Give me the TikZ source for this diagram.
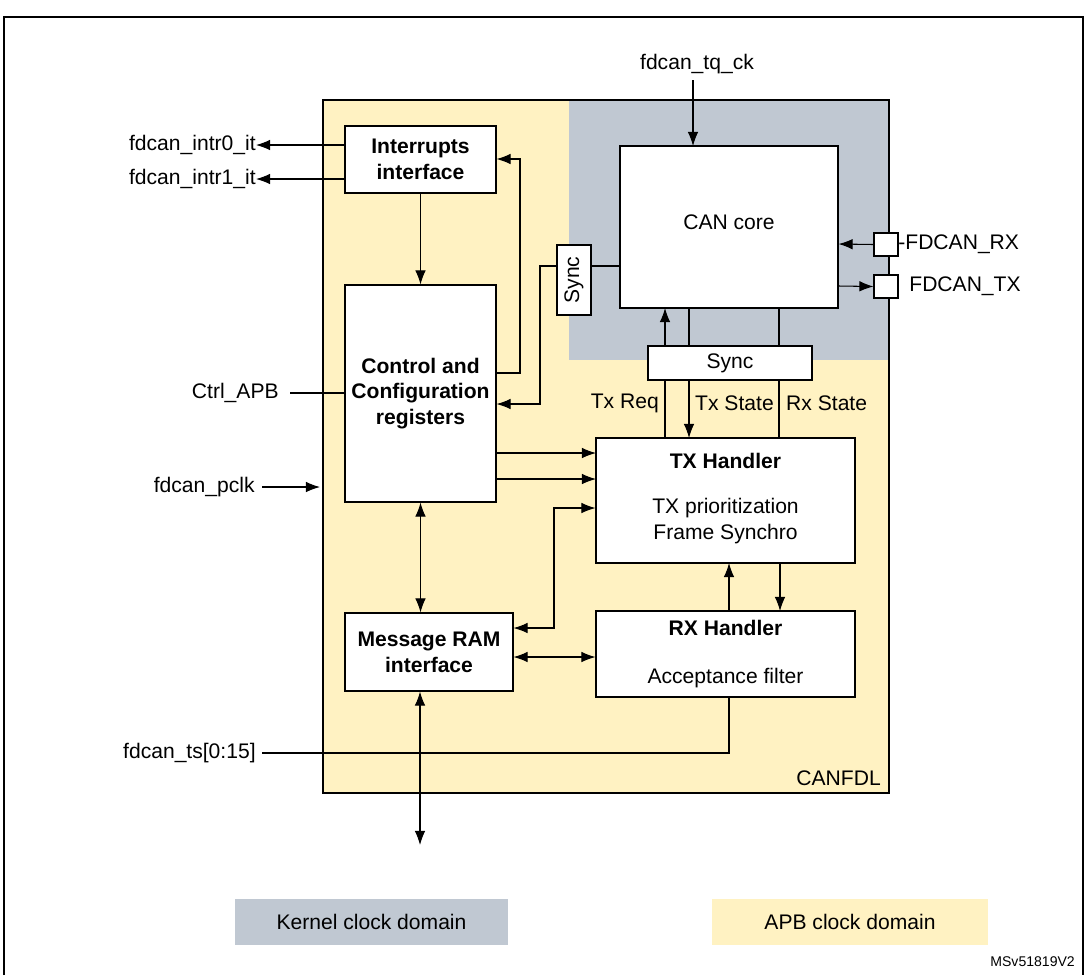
\documentclass[tikz,border=0pt]{standalone}
\usepackage{fontspec}
\setmainfont{Liberation Sans}
\usetikzlibrary{arrows.meta}
\definecolor{apb}{HTML}{FFF2C2}
\definecolor{ker}{HTML}{C0C8D2}
\begin{document}
\begin{tikzpicture}[x=0.2mm,y=-0.2mm,font=\fontsize{12}{14.7}\selectfont,
  blk/.style={draw,fill=white,line width=0.6pt,inner sep=0pt},
  bf/.style={font=\fontsize{12}{14.7}\selectfont\bfseries,align=center},
  ln/.style={line width=0.6pt},
  ar/.style={ln,-{Latex[length=8pt,width=6pt]}},
  dar/.style={ln,{Latex[length=8pt,width=6pt]}-{Latex[length=8pt,width=6pt]}}]
\useasboundingbox (0,0) rectangle (1087,975);
\draw[line width=0.6pt] (4,975) -- (4,17) -- (1083,17) -- (1083,975);
\draw[line width=1.5pt] (4,17) -- (1083,17);
% domains
\fill[apb] (323,100) rectangle (889,793);
\fill[ker] (569,100) rectangle (889,360);
\draw[ln] (323,100) rectangle (889,793);
\node[anchor=east] (canfdl) at (887,778) {CANFDL};
% blocks
\node[blk,bf,minimum width=151*0.2mm,minimum height=67*0.2mm] (ii) at (420.5,159.5) {Interrupts\\interface};
\node[blk,bf,minimum width=151*0.2mm,minimum height=217*0.2mm] (cc) at (420.5,393.5) {Control and\\Configuration\\registers};
\node[blk,bf,minimum width=168*0.2mm,minimum height=78*0.2mm] (mr) at (429,652) {Message RAM\\interface};
\node[blk,minimum width=218*0.2mm,minimum height=162*0.2mm] (core) at (729,227) {};
\node at (729,222) {CAN core};
\node[blk,minimum width=34*0.2mm,minimum height=70*0.2mm] (sv) at (574,280) {};
\node[rotate=90] at (574,280) {Sync};
\node[blk,minimum width=164*0.2mm,minimum height=34*0.2mm] (sh) at (730,363) {Sync};
\node[blk,minimum width=259*0.2mm,minimum height=125*0.2mm] (tx) at (725.5,500.5) {};
\node[bf] at (725.5,461) {TX Handler};
\node[align=center] at (725.5,521) {TX prioritization\\Frame Synchro};
\node[blk,minimum width=259*0.2mm,minimum height=86*0.2mm] (rx) at (725.5,654) {};
\node[bf] at (725.5,628) {RX Handler};
\node at (725.5,678) {Acceptance filter};
\node[blk,minimum width=24*0.2mm,minimum height=23*0.2mm] (prx) at (886,244.5) {};
\node[blk,minimum width=24*0.2mm,minimum height=23*0.2mm] (ptx) at (886,286.5) {};
\node[anchor=west,inner sep=0pt] (lrx) at (898,244) {-FDCAN\_RX};
\node[anchor=west,inner sep=0pt] (ltx) at (909,286) {FDCAN\_TX};
% external labels
\node[anchor=east,inner sep=0pt] (i0) at (256,145) {fdcan\_intr0\_it};
\node[anchor=east,inner sep=0pt] (i1) at (256,179) {fdcan\_intr1\_it};
\node (tq) at (697,64) {fdcan\_tq\_ck};
\node[anchor=east,inner sep=0pt] (apbl) at (279,393) {Ctrl\_APB};
\node[anchor=east,inner sep=0pt] (pclk) at (255,487) {fdcan\_pclk};
\node[anchor=east,inner sep=0pt] (ts) at (256,753) {fdcan\_ts[0:15]};
\coordinate (bot) at (420,845);
% connectors
\draw[ar] (ii.west |- 0,145) -- (i0.east);
\draw[ar] (ii.west |- 0,179) -- (i1.east);
\draw[ar] (693,80) -- (693,146);
\draw[ar] (ii.south) -- (cc.north);
\draw[ar] (496,373) -- (520,373) -- (520,159) -- (ii.east |- 0,159);
\draw[ln] (sv.east |- 0,266) -- (core.west |- 0,266);
\draw[ar] (sv.west |- 0,266) -- (540,266) -- (540,404) -- (cc.east |- 0,404);
\draw[ar] (prx.west) -- (core.east |- 0,244);
\draw[ar] (core.east |- 0,286) -- (ptx.west);
\draw[ar] (665,346) -- (665,308);
\draw[ln] (689,346) -- (689,308);
\draw[ln] (779,346) -- (779,308);
\draw[ln] (665,380) -- (665,438);
\draw[ar] (689,380) -- (689,438);
\draw[ln] (779,380) -- (779,438);
\node[anchor=east] at (665,403) {Tx Req};
\node[anchor=west] at (689,403) {Tx State};
\node[anchor=west] at (780,403) {Rx State};
\draw[ar] (496,453) -- (596,453);
\draw[ar] (496,479) -- (596,479);
\draw[dar] (mr.east |- 0,628) -- (554,628) -- (554,508) -- (tx.west |- 0,508);
\draw[dar] (mr.east |- 0,657) -- (rx.west |- 0,657);
\draw[ar] (729,611) -- (729,563);
\draw[ar] (780,563) -- (780,611);
\draw[dar] (cc.south) -- (mr.north -| cc.south);
\draw[ln] (290,393) -- (cc.west |- 0,393);
\draw[ar] (262,487) -- (320,487);
\draw[ln] (262,753) -- (729,753) -- (729,697);
\draw[dar] (mr.south -| bot) -- (bot);
% legend
\node[fill=ker,minimum width=273*0.2mm,minimum height=46*0.2mm] (lk) at (371.5,922) {Kernel clock domain};
\node[fill=apb,minimum width=276*0.2mm,minimum height=46*0.2mm] (la) at (850,922) {APB clock domain};
\node[anchor=east,font=\fontsize{8}{9}\selectfont] (ms) at (1081,962) {MSv51819V2};
\end{tikzpicture}
\end{document}
